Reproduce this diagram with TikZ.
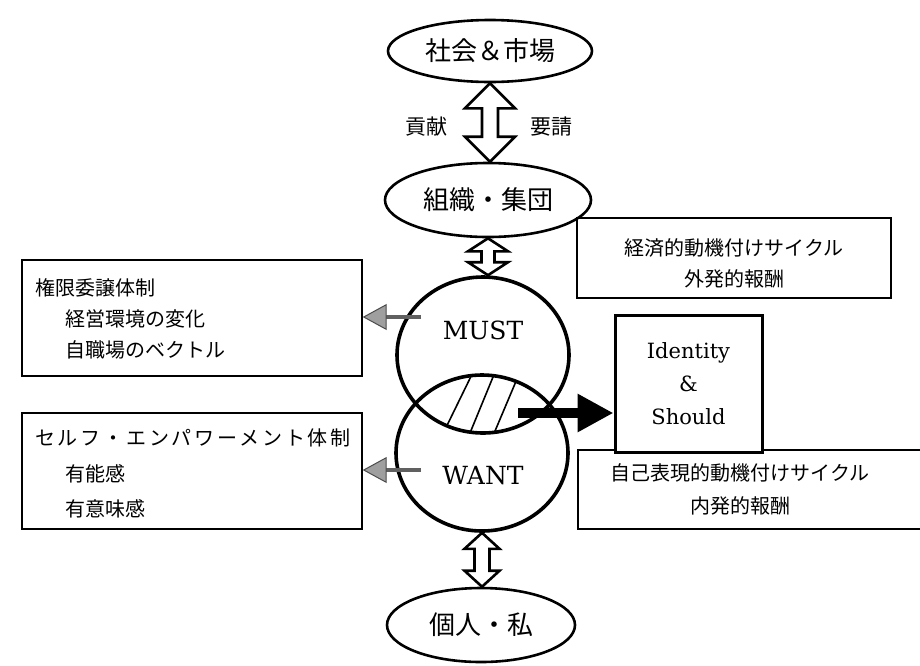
\documentclass[tikz,border=0pt]{standalone}
\usepackage{fontspec}
\newfontfamily\jp{Noto Sans CJK JP}
\newfontfamily\jpsp[LetterSpace=14]{Noto Sans CJK JP}
\newfontfamily\latf{DejaVu Serif}
\usetikzlibrary{shapes.geometric,arrows.meta,calc}
\newcommand\hollowarrow[5]{%
  \draw[hollow] let \p1=(#1), \p2=(#2) in
    (\x1,\y1) -- (\x1+#3,\y1-#5) -- (\x1+#4,\y1-#5) -- (\x1+#4,\y2+#5) -- (\x1+#3,\y2+#5)
    -- (\x1,\y2) -- (\x1-#3,\y2+#5) -- (\x1-#4,\y2+#5) -- (\x1-#4,\y1-#5) -- (\x1-#3,\y1-#5) -- cycle;}
\begin{document}
\begin{tikzpicture}[x=1pt,y=-1pt,
  oval/.style={draw,ellipse,line width=2.6pt,inner sep=0pt,font=\jp\fontsize{26}{30}\selectfont},
  circ/.style={draw,ellipse,line width=3.6pt,minimum width=172pt,minimum height=156pt,inner sep=0pt},
  box/.style={draw,rectangle,line width=1.4pt,inner sep=0pt},
  jtxt/.style={font=\jp\fontsize{20}{24}\selectfont,inner sep=0pt},
  lat/.style={font=\latf\fontsize{25}{30}\selectfont,inner sep=0pt},
  hollow/.style={draw,line width=2.6pt,fill=white,line join=miter},
  grayarrow/.style={draw=gray!75!black,line width=3.5pt,
     -{Triangle[length=24pt,width=26pt,fill=gray!75,color=gray!60!black,line width=1pt]}},
  blackarrow/.style={line width=10pt,-{Triangle[length=36pt,width=36pt]}}
]
\useasboundingbox (0,0) rectangle (920,665);
\fill[white] (0,0) rectangle (920,665);

% ellipses
\node[oval,minimum width=204pt,minimum height=62pt] (soc) at (490,51) {社会＆市場};
\node[oval,minimum width=206pt,minimum height=74pt] (org) at (488,200) {組織・集団};
\node[oval,minimum width=188pt,minimum height=74pt] (ind) at (481,625) {個人・私};

% circles
\node[circ] (must) at (483,355) {};
\node[circ] (want) at (482,453) {};
\node[lat] (musttxt) at (483,330) {MUST};
\node[lat] (wanttxt) at (483,476) {WANT};

% hatching in the overlap
\begin{scope}
  \clip (must.center) ellipse [x radius=86pt,y radius=78pt];
  \clip (want.center) ellipse [x radius=86pt,y radius=78pt];
  \draw[line width=1.6pt] (435,450) -- (479,360) (463,450) -- (500,360) (487,450) -- (525,360);
\end{scope}

% hollow double arrows
\hollowarrow{soc.south}{org.north}{25pt}{8pt}{25pt}
\hollowarrow{org.south}{must.north}{20pt}{6.5pt}{13pt}
\hollowarrow{want.south}{ind.north}{17.5pt}{7.5pt}{16pt}
\node[jtxt,font=\jp\fontsize{21}{24}\selectfont] (kouken) at (426,127) {貢献};
\node[jtxt,font=\jp\fontsize{21}{24}\selectfont] (yousei) at (551,127) {要請};

% left boxes
\node[box,minimum width=340pt,minimum height=116pt] (lb1) at (192,318) {};
\node[jtxt,anchor=west] (l1a) at (35,288) {権限委譲体制};
\node[jtxt,anchor=west] (l1b) at (65,319) {経営環境の変化};
\node[jtxt,anchor=west] (l1c) at (65,350) {自職場のベクトル};

\node[box,minimum width=340pt,minimum height=116pt] (lb2) at (192,471) {};
\node[jtxt,anchor=west,font=\jpsp\fontsize{20}{24}\selectfont] (l2a) at (35,438) {セルフ・エンパワーメント体制};
\node[jtxt,anchor=west] (l2b) at (65,474) {有能感};
\node[jtxt,anchor=west] (l2c) at (65,509) {有意味感};

% gray arrows
\coordinate (g1) at (421,317);
\coordinate (g2) at (421,470);
\draw[grayarrow] (g1) -- (g1 -| lb1.east);
\draw[grayarrow] (g2) -- (g2 -| lb2.east);

% right boxes
\node[box,minimum width=314pt,minimum height=80pt] (rb1) at (734,258) {};
\node[jtxt] (r1a) at (734,248) {経済的動機付けサイクル};
\node[jtxt] (r1b) at (734,279) {外発的報酬};

\node[box,minimum width=352pt,minimum height=79pt] (rb2) at (754,489.5) {};
\node[jtxt] (r2a) at (740,473) {自己表現的動機付けサイクル};
\node[jtxt] (r2b) at (740,506) {内発的報酬};

\node[draw,rectangle,line width=3pt,fill=white,minimum width=147pt,minimum height=137pt,inner sep=0pt] (ident) at (688.5,383.5) {};
\node[font=\latf\fontsize{21}{33}\selectfont,align=center,inner sep=0pt] (identtxt) at (ident.center) {Identity\\\&\\Should};

% black arrow
\coordinate (bstart) at (518,413);
\draw[blackarrow] (bstart) -- (bstart -| ident.west);
\end{tikzpicture}
\end{document}
